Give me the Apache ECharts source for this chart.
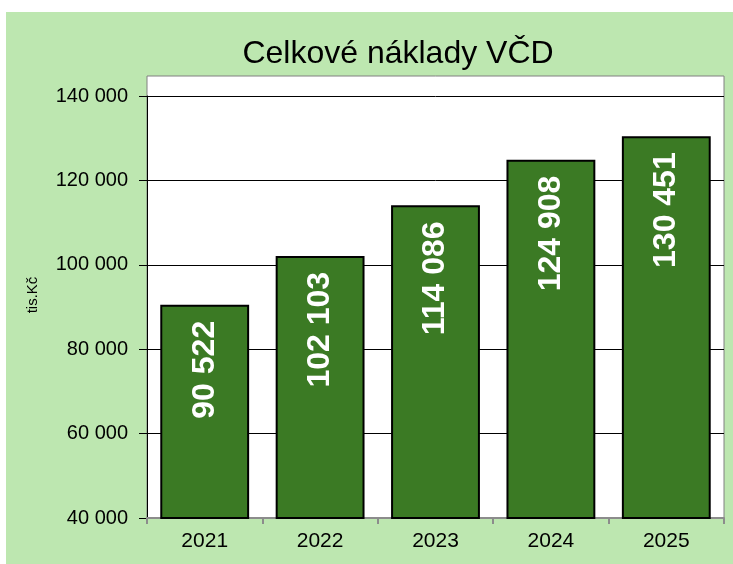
<!DOCTYPE html>
<html>
<head>
<meta charset="utf-8">
<script src="https://cdn.jsdelivr.net/npm/echarts@6/dist/echarts.min.js"></script>
<style>
  html, body { margin: 0; padding: 0; background: #fff; }
  #myChart { width: 733px; height: 564px; }
</style>
</head>
<body>
<div id="myChart"></div>
<script>
// data
const years = ["2021", "2022", "2023", "2024", "2025"];
const costs = [90522, 102103, 114086, 124908, 130451];

const fmt = (v) => String(v).replace(/\B(?=(\d{3})+(?!\d))/g, " ");

let myChart = echarts.init(document.getElementById("myChart"));
myChart.setOption({
  backgroundColor: "#fff",
  textStyle: { fontFamily: "Liberation Sans, Arial, sans-serif" },
  graphic: [
    // green chart area
    { type: "rect", z: -10, shape: { x: 6, y: 12, width: 727, height: 552 }, style: { fill: "#bde7b0" } },
    // white plot area
    { type: "rect", z: -9, shape: { x: 147, y: 76, width: 577, height: 442 }, style: { fill: "#fff", stroke: "#808080", lineWidth: 1 } },
    // y axis name
    {
      type: "text",
      x: 33,
      y: 295,
      rotation: Math.PI / 2,
      style: { text: "tis.Kč", fontSize: 15, fill: "#000", align: "center", verticalAlign: "middle", fontFamily: "Liberation Sans, Arial, sans-serif" },
    },
  ],
  title: {
    text: "Celkové náklady VČD",
    left: 393,
    top: 33,
    textAlign: "center",
    textStyle: { fontSize: 32, fontWeight: "normal", color: "#000" },
  },
  grid: { left: 147, right: 9, top: 96, bottom: 46 },
  xAxis: {
    type: "category",
    data: years,
    axisLine: { lineStyle: { color: "#8c8c8c", width: 2 } },
    axisTick: { show: true, length: 6, lineStyle: { color: "#8c8c8c", width: 2 } },
    axisLabel: { fontSize: 21, color: "#000", margin: 13 },
  },
  yAxis: {
    type: "value",
    min: 40000,
    max: 140000,
    interval: 20000,
    axisLine: { show: true, lineStyle: { color: "#000", width: 1 } },
    axisTick: { show: true, length: 8, lineStyle: { color: "#000" } },
    axisLabel: { fontSize: 20, color: "#000", margin: 19, formatter: fmt },
    splitLine: { lineStyle: { color: "#000", width: 1 } },
  },
  series: [
    {
      type: "bar",
      data: costs,
      barWidth: "77%",
      itemStyle: { color: "#3b7a24", borderColor: "#000", borderWidth: 2 },
      label: {
        show: true,
        position: "insideTop",
        distance: 16,
        rotate: 90,
        align: "right",
        verticalAlign: "middle",
        color: "#fff",
        fontSize: 32,
        fontWeight: "bold",
        formatter: (p) => fmt(p.value),
      },
    },
  ],
});
</script>
</body>
</html>
